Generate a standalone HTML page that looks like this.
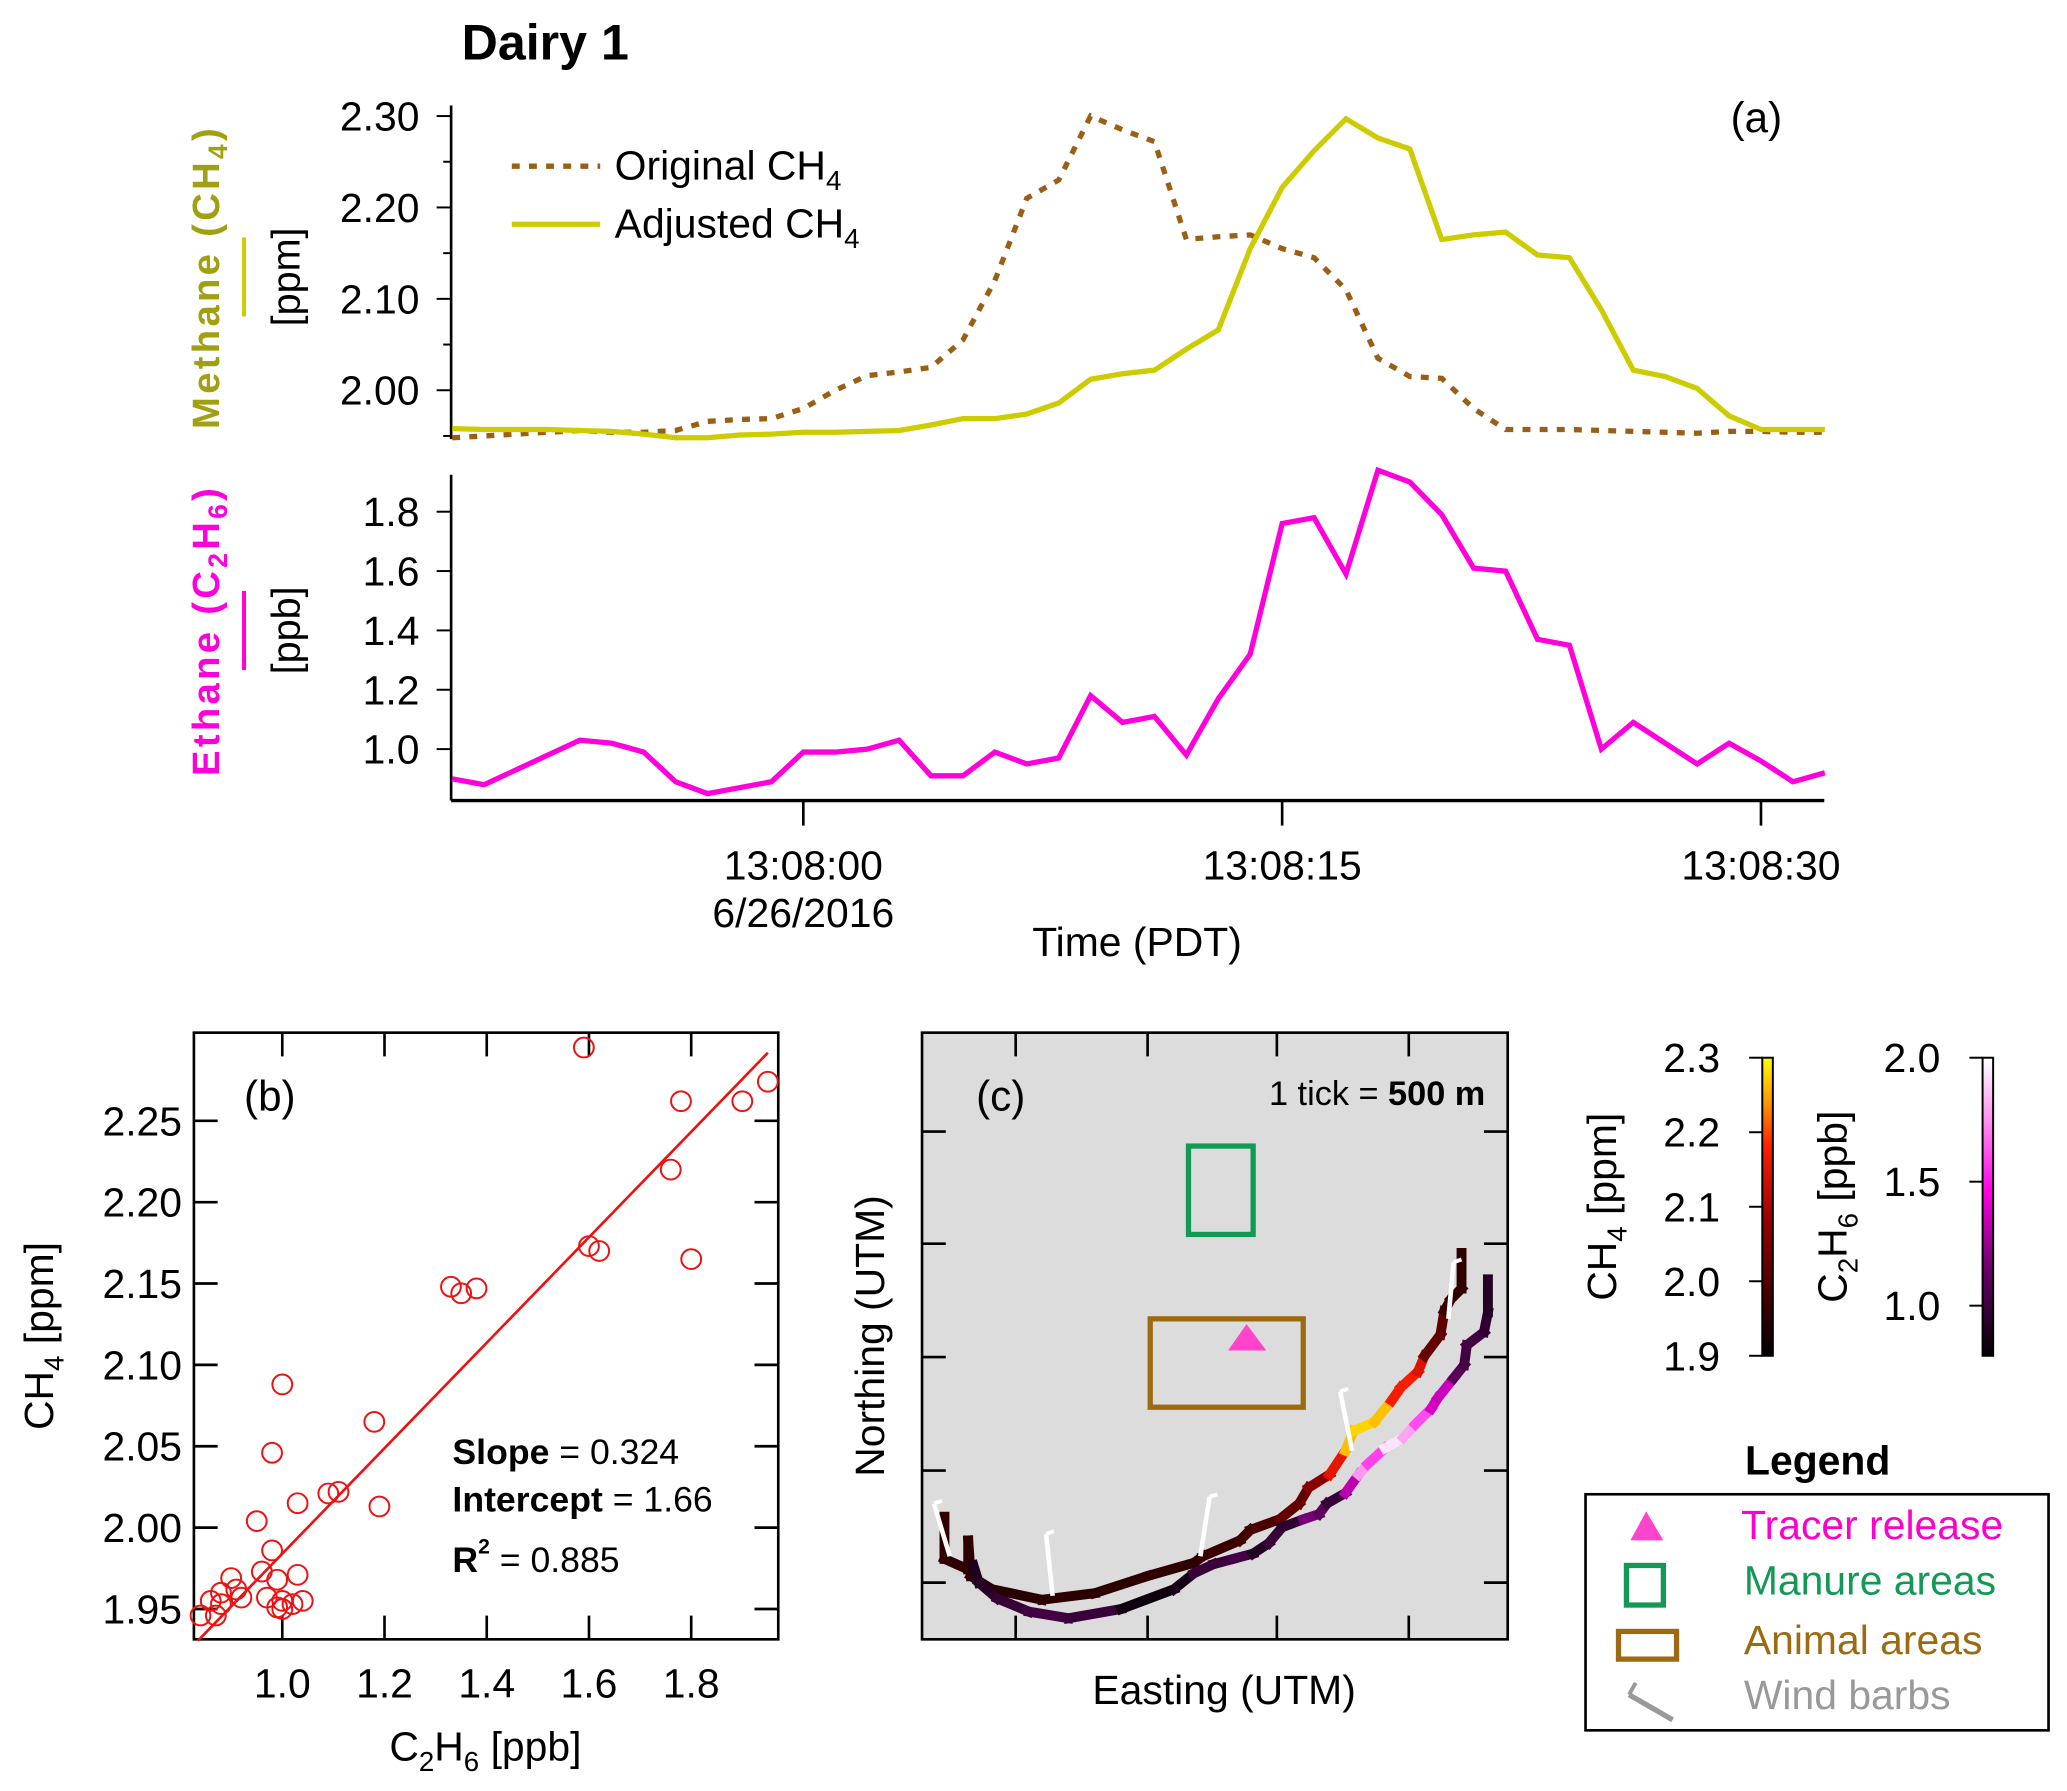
<!DOCTYPE html>
<html><head><meta charset="utf-8"><style>
html,body{margin:0;padding:0;background:#fff}
svg{display:block}
text{font-family:"Liberation Sans",sans-serif}
</style></head><body>
<svg id="fig" width="2067" height="1791" viewBox="0 0 1567 1358" preserveAspectRatio="none" xmlns="http://www.w3.org/2000/svg">
<text x="350" y="45" font-size="38" font-weight="bold">Dairy 1</text>
<g id="pa"></g>
<g id="pb"></g>
<g id="pc"></g>
</svg>
<script>
const times=[-11,-10,-9,-8,-7,-6,-5,-4,-3,-2,-1,0,1,2,3,4,5,6,7,8,9,10,11,12,13,14,15,16,17,18,19,20,21,22,23,24,25,26,27,28,29,30,31,32];
const ethane=[0.90,0.88,0.93,0.98,1.03,1.02,0.99,0.89,0.85,0.87,0.89,0.99,0.99,1.00,1.03,0.91,0.91,0.99,0.95,0.97,1.18,1.09,1.11,0.98,1.17,1.32,1.76,1.78,1.59,1.94,1.90,1.79,1.61,1.60,1.37,1.35,1.00,1.09,1.02,0.95,1.02,0.96,0.89,0.92];
const adjustedCH4=[1.958,1.957,1.957,1.957,1.956,1.955,1.952,1.948,1.948,1.951,1.952,1.954,1.954,1.955,1.956,1.962,1.969,1.969,1.974,1.986,2.012,2.018,2.022,2.045,2.066,2.155,2.222,2.262,2.297,2.276,2.264,2.165,2.170,2.173,2.148,2.145,2.088,2.022,2.015,2.002,1.972,1.957,1.957,1.957];
const originalCH4=[1.948,1.950,1.952,1.954,1.956,1.954,1.954,1.956,1.966,1.968,1.969,1.980,2.000,2.016,2.020,2.025,2.055,2.120,2.210,2.230,2.300,2.285,2.272,2.165,2.168,2.170,2.155,2.145,2.110,2.035,2.015,2.013,1.980,1.957,1.957,1.957,1.956,1.955,1.954,1.953,1.955,1.955,1.954,1.954];
const timeTicks=[0,15,30];
const timeTickLabels=["13:08:00","13:08:15","13:08:30"];
const ch4Ticks=[2.00,2.10,2.20,2.30];
const ethTicks=[1.0,1.2,1.4,1.6,1.8];
const scatterX=[1.59,1.78,1.90,1.95,1.76,1.60,1.62,1.80,1.33,1.35,1.38,1.00,1.18,0.98,1.19,1.09,1.11,1.03,0.95,0.98,0.96,0.99,1.03,0.90,0.88,0.86,0.92,0.97,1.00,0.99,1.02,1.04,0.84,0.87,0.88,0.91,1.00];
const scatterY=[2.295,2.262,2.262,2.274,2.220,2.173,2.170,2.165,2.148,2.144,2.147,2.088,2.065,2.046,2.013,2.021,2.022,2.015,2.004,1.986,1.973,1.968,1.971,1.969,1.960,1.955,1.957,1.957,1.955,1.951,1.953,1.955,1.946,1.946,1.953,1.962,1.950];
const fitSlope=0.324, fitIntercept=1.66;
const bXTicks=[1.0,1.2,1.4,1.6,1.8];
const bYTicks=[1.95,2.00,2.05,2.10,2.15,2.20,2.25];
const NS="http://www.w3.org/2000/svg";
function el(p,tag,a,txt){const e=document.createElementNS(NS,tag);for(const k in a)e.setAttribute(k,a[k]);if(txt!==undefined)e.textContent=txt;p.appendChild(e);return e;}
const pa=document.getElementById('pa'),pb=document.getElementById('pb'),pc=document.getElementById('pc');
const tx=t=>609+(t)*24.2;
const yC=v=>88+(2.30-v)*693;
const yE=v=>568-(v-1.0)*225;
let ax=el(pa,'line',{x1:342,y1:80,x2:342,y2:333,stroke:'#000','stroke-width':2});

ax=el(pa,'line',{x1:342,y1:360,x2:342,y2:607,stroke:'#000','stroke-width':2});

ax=el(pa,'line',{x1:342,y1:607,x2:1383,y2:607,stroke:'#000','stroke-width':2.5});

for(let v=1.95;v<=2.301;v+=0.05){const y=yC(v);const major=ch4Ticks.some(t=>Math.abs(t-v)<1e-6);el(pa,'line',{x1:major?331:336,y1:y,x2:342,y2:y,stroke:'#000','stroke-width':1.5});}
ch4Ticks.forEach(v=>{const t=el(pa,'text',{x:318,y:yC(v)+11,'font-size':31,'text-anchor':'end'},v.toFixed(2));});
ethTicks.forEach(v=>{el(pa,'line',{x1:331,y1:yE(v),x2:342,y2:yE(v),stroke:'#000','stroke-width':1.5});const t=el(pa,'text',{x:318,y:yE(v)+11,'font-size':31,'text-anchor':'end'},v.toFixed(1));});
timeTicks.forEach((s,i)=>{el(pa,'line',{x1:tx(s),y1:607,x2:tx(s),y2:626,stroke:'#000','stroke-width':2});const t=el(pa,'text',{x:tx(s),y:667,'font-size':31,'text-anchor':'middle'},timeTickLabels[i]);});
let p=el(pa,'polyline',{points:times.map((t,i)=>tx(t)+','+yC(originalCH4[i])).join(' '),fill:'none',stroke:'#9b5f14','stroke-width':4,'stroke-dasharray':'6,7'});

p=el(pa,'polyline',{points:times.map((t,i)=>tx(t)+','+yC(adjustedCH4[i])).join(' '),fill:'none',stroke:'#cccc00','stroke-width':4});

p=el(pa,'polyline',{points:times.map((t,i)=>tx(t)+','+yE(ethane[i])).join(' '),fill:'none',stroke:'#ff00dd','stroke-width':4});

const bx=v=>214+(v-1.0)*387.5;
const by=v=>1220-(v-1.95)*1234;
let fr=el(pb,'rect',{x:147,y:783,width:443,height:460,fill:'none',stroke:'#000','stroke-width':2});

bXTicks.forEach(v=>{const x=bx(v);el(pb,'line',{x1:x,y1:1243,x2:x,y2:1225,stroke:'#000','stroke-width':2});el(pb,'line',{x1:x,y1:783,x2:x,y2:801,stroke:'#000','stroke-width':2});const t=el(pb,'text',{x:x,y:1287,'font-size':31,'text-anchor':'middle'},v.toFixed(1));});
bYTicks.forEach(v=>{const y=by(v);el(pb,'line',{x1:147,y1:y,x2:165,y2:y,stroke:'#000','stroke-width':2});el(pb,'line',{x1:572,y1:y,x2:590,y2:y,stroke:'#000','stroke-width':2});const t=el(pb,'text',{x:138,y:y+11,'font-size':31,'text-anchor':'end'},v.toFixed(2));});
const x0=0.835,x1=1.95;
let fl=el(pb,'line',{x1:bx(x0),y1:by(fitIntercept+fitSlope*x0),x2:bx(x1),y2:by(fitIntercept+fitSlope*x1),stroke:'#ee1111','stroke-width':2});

scatterX.forEach((v,i)=>{const c=el(pb,'circle',{cx:bx(v),cy:by(scatterY[i]),r:7.5,fill:'none',stroke:'#ee1111','stroke-width':1.5});});
const trackCH4=[[716,1150],[716,1182],[734,1190],[734,1168],[736,1195],[752,1205],[790,1213],[830,1208],[870,1195],[905,1185],[912,1180],[940,1168],[948,1160],[970,1152],[985,1140],[992,1128],[1008,1118],[1020,1100],[1026,1085],[1042,1078],[1055,1062],[1062,1052],[1075,1040],[1080,1028],[1092,1012],[1095,994],[1100,985],[1108,977],[1108,950]];
const trackC2H6=[[738,1187],[742,1200],[756,1212],[780,1222],[810,1227],[850,1220],[890,1205],[905,1193],[920,1186],[935,1182],[950,1178],[962,1170],[972,1158],[988,1152],[1000,1148],[1006,1140],[1020,1132],[1030,1118],[1037,1110],[1050,1098],[1064,1090],[1073,1080],[1085,1068],[1090,1060],[1102,1045],[1110,1035],[1112,1020],[1125,1010],[1128,995],[1128,970]];
function chCol(v){const f=Math.max(0,Math.min(1,(v-1.9)/0.4));const stops=[[0,[0,0,0]],[0.45,[150,0,0]],[0.7,[255,30,0]],[0.85,[255,150,0]],[1,[255,255,0]]];return interp(stops,f);}
function etCol(v){const f=Math.max(0,Math.min(1,(v-0.8)/1.2));const stops=[[0,[0,0,0]],[0.3,[110,0,110]],[0.55,[255,0,230]],[0.8,[255,150,240]],[1,[255,255,255]]];return interp(stops,f);}
function interp(s,f){for(let i=1;i<s.length;i++){if(f<=s[i][0]){const a=s[i-1],b=s[i],t=(f-a[0])/(b[0]-a[0]);return 'rgb('+a[1].map((c,k)=>Math.round(c+(b[1][k]-c)*t)).join(',')+')';}}return 'rgb(255,255,255)';}
let bg=el(pc,'rect',{x:699,y:783,width:444,height:460,fill:'#dcdcdc',stroke:'#000','stroke-width':2});

[770,870,968,1068].forEach(x=>{el(pc,'line',{x1:x,y1:783,x2:x,y2:801,stroke:'#000','stroke-width':2});el(pc,'line',{x1:x,y1:1243,x2:x,y2:1225,stroke:'#000','stroke-width':2});});
[858,943,1029,1115,1200].forEach(y=>{el(pc,'line',{x1:699,y1:y,x2:717,y2:y,stroke:'#000','stroke-width':2});el(pc,'line',{x1:1125,y1:y,x2:1143,y2:y,stroke:'#000','stroke-width':2});});
let r=el(pc,'rect',{x:901,y:869,width:49,height:67,fill:'none',stroke:'#119955','stroke-width':4});

r=el(pc,'rect',{x:872,y:1000,width:116,height:67,fill:'none',stroke:'#9c6a10','stroke-width':4});

r=el(pc,'polygon',{points:'945,1004 931,1024 960,1024',fill:'#ff44cc'});

function drawTrack(pts,vals,colf,name){for(let i=0;i<pts.length-1;i++){const k=Math.round(i*(vals.length-1)/(pts.length-2));const s=el(pc,'line',{x1:pts[i][0],y1:pts[i][1],x2:pts[i+1][0],y2:pts[i+1][1],stroke:colf(vals[Math.min(k,vals.length-1)]),'stroke-width':7.5,'stroke-linecap':'square'});}}
drawTrack(trackCH4,adjustedCH4,chCol,'ch4-track-segment');
drawTrack(trackC2H6,ethane,etCol,'ethane-track-segment');
[[708,1140,720,1180],[793,1163,798,1210],[917,1135,910,1180],[1016,1055,1025,1100],[1102,957,1098,1000]].forEach(b=>{const w=el(pc,'line',{x1:b[0],y1:b[1],x2:b[2],y2:b[3],stroke:'#fff','stroke-width':3.5});el(pc,'line',{x1:b[0],y1:b[1],x2:b[0]+6,y2:b[1]-2,stroke:'#fff','stroke-width':3});});
const cbY=v=>802+(2.3-v)*565;
const ceY=v=>802+(2.0-v)*188;
const defs=el(document.getElementById('fig'),'defs',{});
let g=el(defs,'linearGradient',{id:'gch',x1:0,y1:1,x2:0,y2:0});
[[0,'#000'],[0.45,'#960000'],[0.7,'#ff1e00'],[0.85,'#ff9600'],[1,'#ffff00']].forEach(s=>el(g,'stop',{offset:s[0],'stop-color':s[1]}));
g=el(defs,'linearGradient',{id:'get',x1:0,y1:1,x2:0,y2:0});
[[0,'#000'],[0.3,'#6e006e'],[0.55,'#ff00e6'],[0.8,'#ff96f0'],[1,'#fff']].forEach(s=>el(g,'stop',{offset:s[0],'stop-color':s[1]}));
r=el(pa,'rect',{x:1336,y:802,width:8,height:226,fill:'url(#gch)',stroke:'#000','stroke-width':1.5});

r=el(pa,'rect',{x:1503,y:802,width:8,height:226,fill:'url(#get)',stroke:'#000','stroke-width':1.5});

[1.9,2.0,2.1,2.2,2.3].forEach(v=>{el(pa,'line',{x1:1326,y1:cbY(v),x2:1336,y2:cbY(v),stroke:'#000','stroke-width':1.5});const t=el(pa,'text',{x:1304,y:cbY(v)+11,'font-size':31,'text-anchor':'end'},v.toFixed(1));});
[1.0,1.5,2.0].forEach(v=>{el(pa,'line',{x1:1493,y1:ceY(v),x2:1503,y2:ceY(v),stroke:'#000','stroke-width':1.5});const t=el(pa,'text',{x:1471,y:ceY(v)+11,'font-size':31,'text-anchor':'end'},v.toFixed(1));});
</script>
<svg style="position:absolute;left:0;top:0" width="2067" height="1791" viewBox="0 0 1567 1358" preserveAspectRatio="none" xmlns="http://www.w3.org/2000/svg">
<g font-family="Liberation Sans, sans-serif">
<text x="1312" y="100" font-size="32">(a)</text>
<line x1="388" y1="126" x2="455" y2="126" stroke="#9b5f14" stroke-width="4" stroke-dasharray="6,7"/>
<text x="466" y="136" font-size="31">Original CH<tspan font-size="21" dy="8">4</tspan></text>
<line x1="388" y1="170" x2="455" y2="170" stroke="#cccc00" stroke-width="4"/>
<text x="466" y="180" font-size="31">Adjusted CH<tspan font-size="21" dy="8">4</tspan></text>
<text transform="translate(166,210) rotate(-90)" text-anchor="middle" font-size="29" font-weight="bold" letter-spacing="2.5" fill="#a0a010">Methane (CH<tspan font-size="20" dy="6">4</tspan><tspan dy="-6">)</tspan></text>
<line x1="185" y1="180" x2="185" y2="240" stroke="#cccc00" stroke-width="3"/>
<text transform="translate(227,210) rotate(-90)" text-anchor="middle" font-size="30">[ppm]</text>
<text transform="translate(166,478) rotate(-90)" text-anchor="middle" font-size="29" font-weight="bold" letter-spacing="2.5" fill="#ff00dd">Ethane (C<tspan font-size="20" dy="6">2</tspan><tspan dy="-6">H</tspan><tspan font-size="20" dy="6">6</tspan><tspan dy="-6">)</tspan></text>
<line x1="185" y1="448" x2="185" y2="508" stroke="#ff00dd" stroke-width="3"/>
<text transform="translate(227,478) rotate(-90)" text-anchor="middle" font-size="30">[ppb]</text>
<text x="609" y="703" font-size="31" text-anchor="middle">6/26/2016</text>
<text x="862" y="725" font-size="31" text-anchor="middle">Time (PDT)</text>
<text x="185" y="842" font-size="32">(b)</text>
<text x="343" y="1110" font-size="27"><tspan font-weight="bold">Slope</tspan> = 0.324</text>
<text x="343" y="1146" font-size="27"><tspan font-weight="bold">Intercept</tspan> = 1.66</text>
<text x="343" y="1192" font-size="27"><tspan font-weight="bold">R</tspan><tspan font-size="16" dy="-14" font-weight="bold">2</tspan><tspan dy="14"> = 0.885</tspan></text>
<text x="368" y="1335" font-size="31" text-anchor="middle">C<tspan font-size="21" dy="8">2</tspan><tspan dy="-8">H</tspan><tspan font-size="21" dy="8">6</tspan><tspan dy="-8"> [ppb]</tspan></text>
<text transform="translate(40,1013) rotate(-90)" text-anchor="middle" font-size="31">CH<tspan font-size="21" dy="8">4</tspan><tspan dy="-8"> [ppm]</tspan></text>
<text x="740" y="842" font-size="32">(c)</text>
<text x="1126" y="838" font-size="26" text-anchor="end">1 tick = <tspan font-weight="bold">500 m</tspan></text>
<text transform="translate(670,1013) rotate(-90)" text-anchor="middle" font-size="31">Northing (UTM)</text>
<text x="928" y="1292" font-size="31" text-anchor="middle">Easting (UTM)</text>
<text transform="translate(1225,915) rotate(-90)" text-anchor="middle" font-size="31">CH<tspan font-size="21" dy="8">4</tspan><tspan dy="-8"> [ppm]</tspan></text>
<text transform="translate(1400,915) rotate(-90)" text-anchor="middle" font-size="31">C<tspan font-size="21" dy="8">2</tspan><tspan dy="-8">H</tspan><tspan font-size="21" dy="8">6</tspan><tspan dy="-8"> [ppb]</tspan></text>
<text x="1378" y="1118" font-size="31" font-weight="bold" text-anchor="middle">Legend</text>
<rect x="1202" y="1133" width="351" height="179" fill="none" stroke="#000" stroke-width="2"/>
<polygon points="1248,1146 1236,1168 1261,1168" fill="#ff44cc"/>
<text x="1320" y="1167" font-size="31" fill="#ff00cc">Tracer release</text>
<rect x="1233" y="1187" width="28" height="30" fill="none" stroke="#119955" stroke-width="4"/>
<text x="1322" y="1209" font-size="31" fill="#119955">Manure areas</text>
<rect x="1227" y="1237" width="44" height="21" fill="none" stroke="#9c6a10" stroke-width="4"/>
<text x="1322" y="1254" font-size="31" fill="#9c6a10">Animal areas</text>
<line x1="1235" y1="1285" x2="1268" y2="1304" stroke="#999" stroke-width="4"/>
<line x1="1235" y1="1285" x2="1240" y2="1276" stroke="#999" stroke-width="3"/>
<text x="1322" y="1296" font-size="31" fill="#999">Wind barbs</text>
</g>
</svg>
</body></html>
